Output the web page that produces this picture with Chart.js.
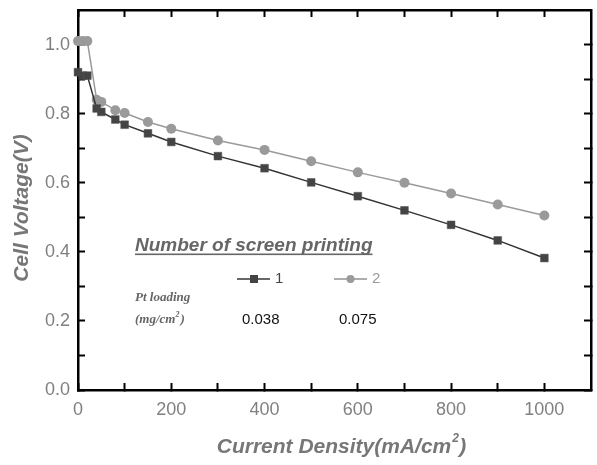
<!DOCTYPE html>
<html>
<head>
<meta charset="utf-8">
<script src="https://cdn.jsdelivr.net/npm/chart.js@4"></script>
<style>
  html, body { margin: 0; padding: 0; background: #fff; }
  #wrap { width: 597px; height: 465px; }
</style>
</head>
<body>
<div id="wrap"><canvas id="chart" width="597" height="465"></canvas></div>
<script>
const currentDensity = [0, 10, 20, 40, 50, 80, 100, 150, 200, 300, 400, 500, 600, 700, 800, 900, 1000];
const voltage1 = [0.92, 0.91, 0.91, 0.815, 0.805, 0.783, 0.768, 0.743, 0.718, 0.677, 0.642, 0.601, 0.561, 0.52, 0.478, 0.433, 0.382];
const voltage2 = [1.01, 1.01, 1.01, 0.84, 0.834, 0.81, 0.802, 0.776, 0.756, 0.722, 0.695, 0.662, 0.63, 0.6, 0.569, 0.537, 0.505];
const seriesNames = ['1', '2'];
const ptLoading = ['0.038', '0.075'];
const xTickValues = [0, 100, 200, 300, 400, 500, 600, 700, 800, 900, 1000];
const yTickValues = [0.0, 0.1, 0.2, 0.3, 0.4, 0.5, 0.6, 0.7, 0.8, 0.9, 1.0];
const xMax = 1100;
const yMax = 1.1;

const dark = '#444444';
const light = '#9a9a9a';
const labelGrey = '#808080';
const labelFont = { family: '"Liberation Sans", Arial, sans-serif', size: 18 };

const toPoints = (ys) => currentDensity.map((x, i) => ({ x, y: ys[i] }));

// black box frame with short inward tick marks, done with the axes themselves
const frameAxis = (extra) => Object.assign({
  grid: { display: true, drawOnChartArea: false, drawTicks: true, tickLength: -7, tickColor: '#000', tickWidth: 2 },
  border: { display: true, color: '#000', width: 2.5 }
}, extra);

// axis titles and the annotation block
const notesPlugin = {
  id: 'notes',
  afterDraw(chart) {
    const ctx = chart.ctx;
    ctx.save();
    ctx.fillStyle = '#777';
    const titleFont = 'italic bold 21px "Liberation Sans", Arial, sans-serif';
    ctx.font = titleFont;
    ctx.textAlign = 'left';
    ctx.textBaseline = 'middle';
    const xt = 'Current Density(mA/cm';
    const w = ctx.measureText(xt).width;
    const x0 = 341 - (w + 14) / 2;
    ctx.fillText(xt, x0, 447);
    ctx.font = 'italic bold 12px "Liberation Sans", Arial, sans-serif';
    ctx.fillText('2', x0 + w + 1, 439);
    ctx.font = titleFont;
    ctx.fillText(')', x0 + w + 8, 447);

    ctx.save();
    ctx.translate(22, 208);
    ctx.rotate(-Math.PI / 2);
    ctx.textAlign = 'center';
    ctx.fillText('Cell Voltage(V)', 0, 0);
    ctx.restore();

    ctx.fillStyle = '#666';
    ctx.font = 'italic bold 19px "Liberation Sans", Arial, sans-serif';
    ctx.textAlign = 'left';
    ctx.textBaseline = 'alphabetic';
    const title = 'Number of screen printing';
    ctx.fillText(title, 135, 251);
    ctx.fillRect(135, 253.5, ctx.measureText(title).width, 1.6);

    const legendX = [237, 334];
    const colors = [dark, light];
    legendX.forEach((lx, i) => {
      const ly = 279;
      ctx.fillStyle = colors[i];
      ctx.fillRect(lx, ly - 0.8, 33, 1.6);
      if (i === 0) {
        ctx.fillRect(lx + 13, ly - 4, 8, 8);
      } else {
        ctx.beginPath();
        ctx.arc(lx + 16.5, ly, 4, 0, Math.PI * 2);
        ctx.fill();
      }
      ctx.font = '15px "Liberation Sans", Arial, sans-serif';
      ctx.textBaseline = 'middle';
      ctx.fillText(seriesNames[i], lx + 38, ly);
      ctx.fillStyle = '#111';
      ctx.fillText(ptLoading[i], lx + 5, 320);
    });

    ctx.fillStyle = '#666';
    ctx.font = 'italic bold 13px "Liberation Serif", "Times New Roman", serif';
    ctx.textBaseline = 'middle';
    ctx.fillText('Pt loading', 135, 298);
    ctx.fillText('(mg/cm', 135, 320);
    const mw = ctx.measureText('(mg/cm').width;
    ctx.font = 'italic bold 8px "Liberation Serif", serif';
    ctx.fillText('2', 135 + mw, 315);
    ctx.font = 'italic bold 13px "Liberation Serif", "Times New Roman", serif';
    ctx.fillText(')', 135 + mw + 5, 320);
    ctx.restore();
  }
};

new Chart(document.getElementById('chart'), {
  type: 'line',
  data: {
    datasets: [
      {
        label: seriesNames[0],
        data: toPoints(voltage1),
        borderColor: '#333',
        borderWidth: 1.5,
        backgroundColor: dark,
        pointStyle: 'rect',
        pointRadius: 5.5,
        pointBorderColor: '#555',
        pointBorderWidth: 0.5,
        tension: 0
      },
      {
        label: seriesNames[1],
        data: toPoints(voltage2),
        borderColor: light,
        borderWidth: 1.5,
        backgroundColor: light,
        pointStyle: 'circle',
        pointRadius: 5,
        pointBorderColor: light,
        pointBorderWidth: 0,
        tension: 0
      }
    ]
  },
  options: {
    responsive: false,
    animation: false,
    clip: false,
    layout: { padding: { top: 10, right: 6, left: 0, bottom: 0 } },
    plugins: { legend: { display: false }, tooltip: { enabled: false } },
    scales: {
      x: frameAxis({
        type: 'linear',
        position: 'bottom',
        min: 0,
        max: xMax,
        afterBuildTicks(scale) { scale.ticks = xTickValues.map((v) => ({ value: v })); },
        afterFit(scale) { scale.height = 75; scale.paddingLeft = 0; scale.paddingRight = 0; },
        ticks: {
          color: labelGrey,
          padding: 16,
          maxRotation: 0,
          autoSkip: false,
          font: labelFont,
          callback: (v) => (v % 200 === 0 ? String(v) : '')
        }
      }),
      y: frameAxis({
        type: 'linear',
        position: 'left',
        min: 0,
        max: yMax,
        afterBuildTicks(scale) { scale.ticks = yTickValues.map((v) => ({ value: v })); },
        afterFit(scale) { scale.width = 78; scale.paddingTop = 0; scale.paddingBottom = 0; },
        ticks: {
          color: labelGrey,
          padding: 15,
          autoSkip: false,
          font: labelFont,
          callback: (v) => (Math.round(v * 10) % 2 === 0 ? Number(v).toFixed(1) : '')
        }
      }),
      xTop: frameAxis({
        type: 'linear',
        position: 'top',
        axis: 'x',
        min: 0,
        max: xMax,
        afterBuildTicks(scale) { scale.ticks = xTickValues.map((v) => ({ value: v })); },
        afterFit(scale) { scale.height = 0; scale.paddingLeft = 0; scale.paddingRight = 0; },
        ticks: { display: false, autoSkip: false }
      }),
      yRight: frameAxis({
        type: 'linear',
        position: 'right',
        axis: 'y',
        min: 0,
        max: yMax,
        afterBuildTicks(scale) { scale.ticks = yTickValues.map((v) => ({ value: v })); },
        afterFit(scale) { scale.width = 0; scale.paddingTop = 0; scale.paddingBottom = 0; },
        ticks: { display: false, autoSkip: false }
      })
    }
  },
  plugins: [notesPlugin]
});
</script>
</body>
</html>
